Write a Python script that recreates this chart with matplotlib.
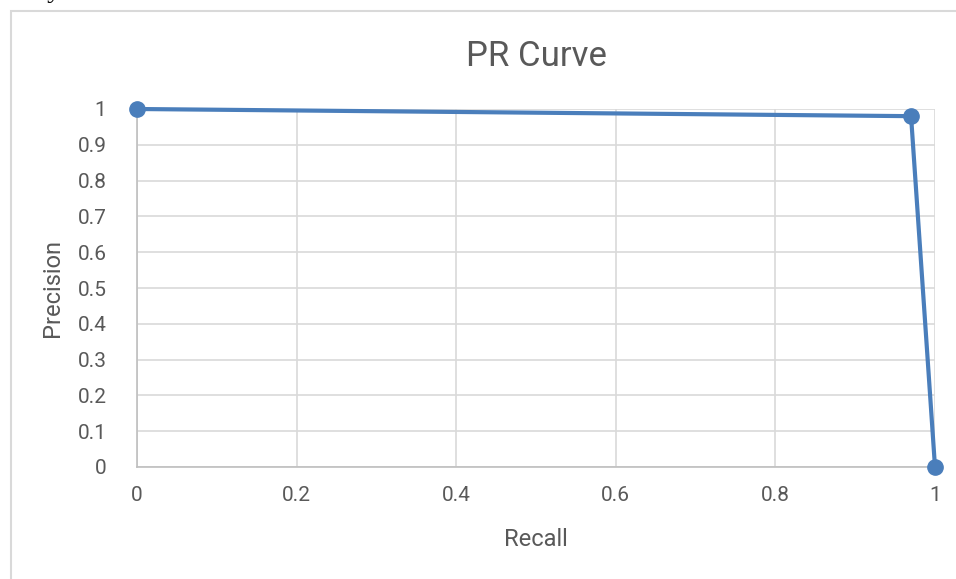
import numpy as np
import matplotlib.pyplot as plt
from matplotlib.patches import Rectangle

recall = [0, 0.97, 1]
precision = [1, 0.98, 0]
xticks = [0, 0.2, 0.4, 0.6, 0.8, 1]
yticks = [0, 0.1, 0.2, 0.3, 0.4, 0.5, 0.6, 0.7, 0.8, 0.9, 1]

plt.rcParams['font.family'] = ['Roboto', 'DejaVu Sans']
grey = '#595959'

fig = plt.figure(figsize=(9.56, 5.79), dpi=100)

# chart frame
fig.patches.append(Rectangle((11 / 956, -0.1), 1.0, 1 - 11 / 579 + 0.1,
                             transform=fig.transFigure, fill=False,
                             edgecolor='#d9d9d9', linewidth=1.5))
# tail of the sentence above the chart
fig.text(0.0, 1 + 3 / 579, '3 days.', fontsize=20, color='black', va='baseline',
         family='Liberation Serif')

ax = fig.add_axes([137 / 956, 1 - 467 / 579, 798 / 956, 358 / 579])
ax.plot(recall, precision, '-o', color='#4a7ebb', linewidth=3,
        markersize=11, clip_on=False, zorder=3)

ax.set_xlim(0, 1)
ax.set_ylim(0, 1)
ax.set_xticks(xticks)
ax.set_yticks(yticks)
ax.set_xticklabels(['0', '0.2', '0.4', '0.6', '0.8', '1'])
ax.set_yticklabels(['0', '0.1', '0.2', '0.3', '0.4', '0.5', '0.6', '0.7', '0.8', '0.9', '1'])
ax.tick_params(length=0, labelsize=15, labelcolor=grey, pad=14)
ax.tick_params(axis='y', pad=22)
ax.grid(True, color='#d9d9d9', linewidth=1.2)
ax.set_axisbelow(True)
for s in ['top', 'right']:
    ax.spines[s].set_visible(False)
for s in ['left', 'bottom']:
    ax.spines[s].set_color('#bfbfbf')
    ax.spines[s].set_linewidth(1.2)

ax.set_title('PR Curve', fontsize=25, color=grey, pad=31)
ax.set_xlabel('Recall', fontsize=17, color=grey, labelpad=16)
ax.set_ylabel('Precision', fontsize=17, color=grey, labelpad=10)

fig.savefig('out.png', dpi=100)
